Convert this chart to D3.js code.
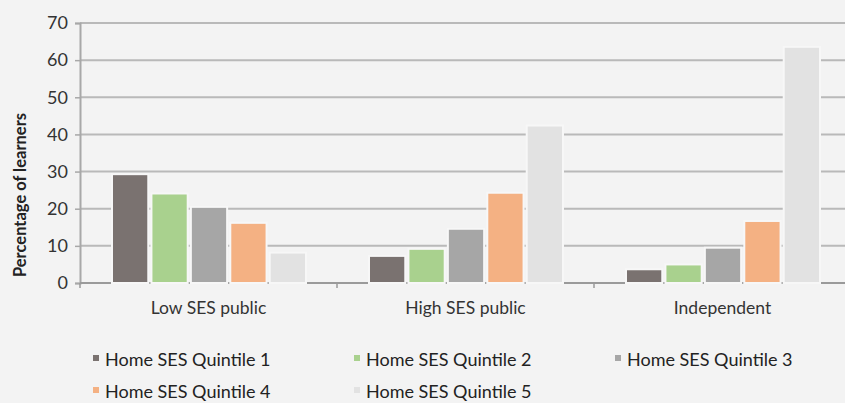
<!DOCTYPE html>
<html>
<head>
<meta charset="utf-8">
<script src="https://cdn.jsdelivr.net/npm/d3@7"></script>
<style>
  body { margin: 0; background: #f3f3f3; }
  svg { display: block; font-family: Lato, "Open Sans", sans-serif; }
</style>
</head>
<body>
<svg width="845" height="403"></svg>
<script>
var svg = d3.select('svg');

var categories = ['Low SES public', 'High SES public', 'Independent'];
var seriesNames = ['Home SES Quintile 1', 'Home SES Quintile 2', 'Home SES Quintile 3',
                   'Home SES Quintile 4', 'Home SES Quintile 5'];
var seriesColors = ['#7a7270', '#a9d18e', '#a6a6a6', '#f4b183', '#e2e2e2'];
var q1 = [29.3, 7.3, 3.7];
var q2 = [24.1, 9.2, 5.0];
var q3 = [20.5, 14.6, 9.5];
var q4 = [16.2, 24.3, 16.7];
var q5 = [8.2, 42.4, 63.6];
var yTicks = [0, 10, 20, 30, 40, 50, 60, 70];

var seriesValues = [q1, q2, q3, q4, q5];

// layout
var plot = {l: 80, r: 851, t: 23, b: 283};

var xScale = d3.scaleBand().domain(categories).range([plot.l, plot.r]);
var xInner = d3.scaleBand().domain(seriesNames)
    .range([32, xScale.bandwidth() - 31]).paddingInner(0.08);
var yScale = d3.scaleLinear().domain([0, 70]).range([plot.b, plot.t]);

// gridlines
svg.append('g').selectAll('line.grid')
  .data(yTicks.slice(1))
  .enter().append('line')
  .attr('class', 'grid')
  .attr('x1', plot.l).attr('x2', 845)
  .attr('y1', function (d) { return yScale(d); })
  .attr('y2', function (d) { return yScale(d); })
  .attr('stroke', '#b9b9b9').attr('stroke-width', 2);

// y axis
var yAxis = d3.axisLeft(yScale).tickValues(yTicks).tickSize(5).tickPadding(7);
var yG = svg.append('g').attr('transform', 'translate(' + plot.l + ',0)').call(yAxis);
yG.select('.domain').attr('stroke', '#a8a8a8').attr('stroke-width', 2);
yG.selectAll('.tick line').attr('stroke', '#a8a8a8').attr('stroke-width', 1.5);
yG.selectAll('.tick text').attr('fill', '#333').style('font-size', '18px')
  .style('font-family', 'Lato, sans-serif');

// x baseline and category ticks
svg.append('line')
  .attr('x1', plot.l).attr('x2', 845)
  .attr('y1', plot.b).attr('y2', plot.b)
  .attr('stroke', '#9a9a9a').attr('stroke-width', 2);
svg.append('g').selectAll('line.ctick')
  .data(categories)
  .enter().append('line')
  .attr('x1', function (d) { return xScale(d); })
  .attr('x2', function (d) { return xScale(d); })
  .attr('y1', plot.b).attr('y2', plot.b + 5)
  .attr('stroke', '#9a9a9a').attr('stroke-width', 1.5);

// bars
var groups = svg.append('g').selectAll('g.cat')
  .data(categories)
  .enter().append('g')
  .attr('class', 'cat')
  .attr('transform', function (d) { return 'translate(' + xScale(d) + ',0)'; });

groups.each(function (cat, ci) {
  var g = d3.select(this);
  var rows = seriesNames.map(function (s, si) {
    return {name: s, value: seriesValues[si][ci], color: seriesColors[si]};
  });
  g.selectAll('rect')
    .data(rows)
    .enter().append('rect')
    .attr('x', function (d) { return xInner(d.name); })
    .attr('width', xInner.bandwidth())
    .attr('y', function (d) { return yScale(d.value); })
    .attr('height', function (d) { return plot.b - yScale(d.value); })
    .attr('fill', function (d) { return d.color; })
    .attr('stroke', '#f7f7f7').attr('stroke-width', 2);
});

// category labels
svg.append('g').selectAll('text.cat')
  .data(categories)
  .enter().append('text')
  .attr('x', function (d) { return xScale(d) + xScale.bandwidth() / 2; })
  .attr('y', 314)
  .attr('text-anchor', 'middle')
  .attr('fill', '#333')
  .style('font-size', '17.5px')
  .text(function (d) { return d; });

// y axis title
svg.append('text')
  .attr('transform', 'translate(26,' + 195 + ')rotate(-90)')
  .attr('text-anchor', 'middle')
  .attr('fill', '#222')
  .style('font-size', '16.5px')
  .style('font-weight', 'bold')
  .text('Percentage of learners');

// legend
var legendPos = [[93, 366], [354, 366], [615, 366], [93, 398], [354, 398]];
var legend = svg.append('g').selectAll('g.leg')
  .data(seriesNames)
  .enter().append('g')
  .attr('transform', function (d, i) {
    return 'translate(' + legendPos[i][0] + ',' + legendPos[i][1] + ')';
  });
legend.append('rect')
  .attr('x', 0).attr('y', -11).attr('width', 6).attr('height', 6)
  .attr('fill', function (d, i) { return seriesColors[i]; });
legend.append('text')
  .attr('x', 12).attr('y', 0)
  .attr('fill', '#222')
  .style('font-size', '18px')
  .text(function (d) { return d; });
</script>
</body>
</html>
